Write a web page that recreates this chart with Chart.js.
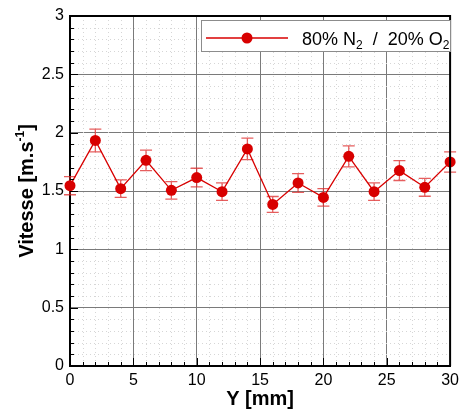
<!DOCTYPE html>
<html>
<head>
<meta charset="utf-8">
<script src="https://cdn.jsdelivr.net/npm/chart.js@4/dist/chart.umd.min.js"></script>
<style>
  html, body { margin: 0; padding: 0; background: #fff; }
  #wrap { width: 464px; height: 412px; }
</style>
</head>
<body>
<div id="wrap"><canvas id="c" width="464" height="412"></canvas></div>
<script>
// ---- data ----
const positionsMm = [0, 2, 4, 6, 8, 10, 12, 14, 16, 18, 20, 22, 24, 26, 28, 30];
const vitesse     = [1.546, 1.933, 1.520, 1.763, 1.506, 1.615, 1.494, 1.861, 1.385, 1.569, 1.445, 1.797, 1.494, 1.675, 1.532, 1.749];
const vitesseErr  = [0.078, 0.097, 0.075, 0.088, 0.075, 0.080, 0.075, 0.092, 0.068, 0.080, 0.075, 0.090, 0.075, 0.085, 0.077, 0.087];
const seriesLabel = ['80% N', '2', '  /  20% O', '2'];
const xTitle = 'Y [mm]';
const yTitleParts = ['Vitesse [m.s', '-1', ']'];
const xRange = [0, 30];
const yRange = [0, 3];

const RED = '#d80000';
const FONT = '"Liberation Sans", Arial, Helvetica, sans-serif';

const extrasPlugin = {
  id: 'extras',
  beforeDatasetsDraw(chart) {
    const { ctx, chartArea: a, scales } = chart;
    const xs = scales.x, ys = scales.y;
    ctx.save();
    // minor dotted grid
    ctx.strokeStyle = '#d6d6d6';
    ctx.lineWidth = 1;
    ctx.setLineDash([1, 3]);
    for (let v = xRange[0] + 1; v < xRange[1]; v += 1) {
      if (v % 5 === 0) continue;
      const px = Math.round(xs.getPixelForValue(v)) + 0.5;
      ctx.beginPath(); ctx.moveTo(px, a.top); ctx.lineTo(px, a.bottom); ctx.stroke();
    }
    for (let i = 1; i < 30; i++) {
      if (i % 5 === 0) continue;
      const py = Math.round(ys.getPixelForValue(i / 10)) + 0.5;
      ctx.beginPath(); ctx.moveTo(a.left, py); ctx.lineTo(a.right, py); ctx.stroke();
    }
    ctx.setLineDash([]);
    // error bars
    ctx.strokeStyle = 'rgba(222,40,40,0.75)';
    ctx.lineWidth = 1.3;
    positionsMm.forEach((x, i) => {
      const px = xs.getPixelForValue(x);
      const pTop = ys.getPixelForValue(vitesse[i] + vitesseErr[i]);
      const pBot = ys.getPixelForValue(vitesse[i] - vitesseErr[i]);
      ctx.beginPath();
      ctx.moveTo(px, pTop); ctx.lineTo(px, pBot);
      ctx.moveTo(px - 6, pTop); ctx.lineTo(px + 6, pTop);
      ctx.moveTo(px - 6, pBot); ctx.lineTo(px + 6, pBot);
      ctx.stroke();
    });
    ctx.restore();
  },
  afterDraw(chart) {
    const { ctx, chartArea: a, scales } = chart;
    const xs = scales.x, ys = scales.y;
    ctx.save();
    // frame (top + right)
    ctx.strokeStyle = '#000';
    ctx.lineWidth = 2;
    ctx.beginPath();
    ctx.moveTo(a.left, a.top); ctx.lineTo(a.right, a.top); ctx.lineTo(a.right, a.bottom);
    ctx.stroke();
    // inward ticks
    ctx.lineWidth = 1;
    for (let v = xRange[0] + 1; v < xRange[1]; v += 1) {
      const px = Math.round(xs.getPixelForValue(v)) + 0.5;
      const len = v % 5 === 0 ? 8 : 4;
      ctx.beginPath(); ctx.moveTo(px, a.bottom); ctx.lineTo(px, a.bottom - len); ctx.stroke();
    }
    for (let i = 1; i < 30; i++) {
      const py = Math.round(ys.getPixelForValue(i / 10)) + 0.5;
      const len = i % 5 === 0 ? 8 : 4;
      ctx.beginPath(); ctx.moveTo(a.left, py); ctx.lineTo(a.left + len, py); ctx.stroke();
    }
    // legend
    const lx = 201, ly = 20, lw = 249, lh = 31;
    ctx.fillStyle = '#fff';
    ctx.fillRect(lx, ly, lw, lh);
    ctx.strokeStyle = '#8c8c8c';
    ctx.lineWidth = 1;
    ctx.strokeRect(lx + 0.5, ly + 0.5, lw, lh);
    const cy = 38;
    ctx.strokeStyle = RED;
    ctx.lineWidth = 1.3;
    ctx.beginPath(); ctx.moveTo(206, cy); ctx.lineTo(288, cy); ctx.stroke();
    ctx.fillStyle = RED;
    ctx.beginPath(); ctx.arc(247, cy, 5.5, 0, Math.PI * 2); ctx.fill();
    ctx.fillStyle = '#000';
    ctx.textBaseline = 'alphabetic';
    ctx.textAlign = 'left';
    let tx = 302;
    const base = 45;
    seriesLabel.forEach((t, i) => {
      const sub = i % 2 === 1;
      ctx.font = (sub ? '12px ' : '18px ') + FONT;
      ctx.fillText(t, tx, sub ? base + 4 : base);
      tx += ctx.measureText(t).width;
    });
    // x title
    ctx.font = 'bold 20px ' + FONT;
    ctx.textAlign = 'center';
    ctx.fillText(xTitle, (a.left + a.right) / 2, 405);
    // y title (rotated, with superscript)
    ctx.translate(33, (a.top + a.bottom) / 2);
    ctx.rotate(-Math.PI / 2);
    ctx.font = 'bold 20px ' + FONT;
    const w0 = ctx.measureText(yTitleParts[0]).width;
    ctx.font = 'bold 12px ' + FONT;
    const w1 = ctx.measureText(yTitleParts[1]).width;
    ctx.font = 'bold 20px ' + FONT;
    const w2 = ctx.measureText(yTitleParts[2]).width;
    let sx = -(w0 + w1 + w2) / 2;
    ctx.textAlign = 'left';
    ctx.fillText(yTitleParts[0], sx, 0); sx += w0;
    ctx.font = 'bold 12px ' + FONT;
    ctx.fillText(yTitleParts[1], sx, -9); sx += w1;
    ctx.font = 'bold 20px ' + FONT;
    ctx.fillText(yTitleParts[2], sx, 0);
    ctx.restore();
  }
};

new Chart(document.getElementById('c'), {
  type: 'line',
  data: {
    datasets: [{
      label: '80% N2 / 20% O2',
      data: positionsMm.map((x, i) => ({ x, y: vitesse[i] })),
      borderColor: RED,
      backgroundColor: RED,
      borderWidth: 1.3,
      pointRadius: 5.5,
      pointHoverRadius: 5.5,
      pointBorderWidth: 0,
      tension: 0,
      clip: false
    }]
  },
  options: {
    responsive: false,
    animation: false,
    devicePixelRatio: 1,
    layout: { padding: { left: 0, right: 9, top: 16, bottom: 0 } },
    plugins: { legend: { display: false }, tooltip: { enabled: false } },
    scales: {
      x: {
        type: 'linear',
        min: xRange[0], max: xRange[1],
        afterFit(s) { s.height = 46; },
        ticks: { stepSize: 5, padding: 5, color: '#000', font: { size: 16, family: FONT } },
        grid: { color: '#7a7a7a', lineWidth: 1, drawTicks: false },
        border: { color: '#000', width: 2 }
      },
      y: {
        type: 'linear',
        min: yRange[0], max: yRange[1],
        afterFit(s) { s.width = 70; },
        ticks: {
          stepSize: 0.5, padding: 6, color: '#000', font: { size: 16, family: FONT },
          callback: (v) => String(Math.round(v * 10) / 10)
        },
        grid: { color: '#7a7a7a', lineWidth: 1, drawTicks: false },
        border: { color: '#000', width: 2 }
      }
    }
  },
  plugins: [extrasPlugin]
});
</script>
</body>
</html>
